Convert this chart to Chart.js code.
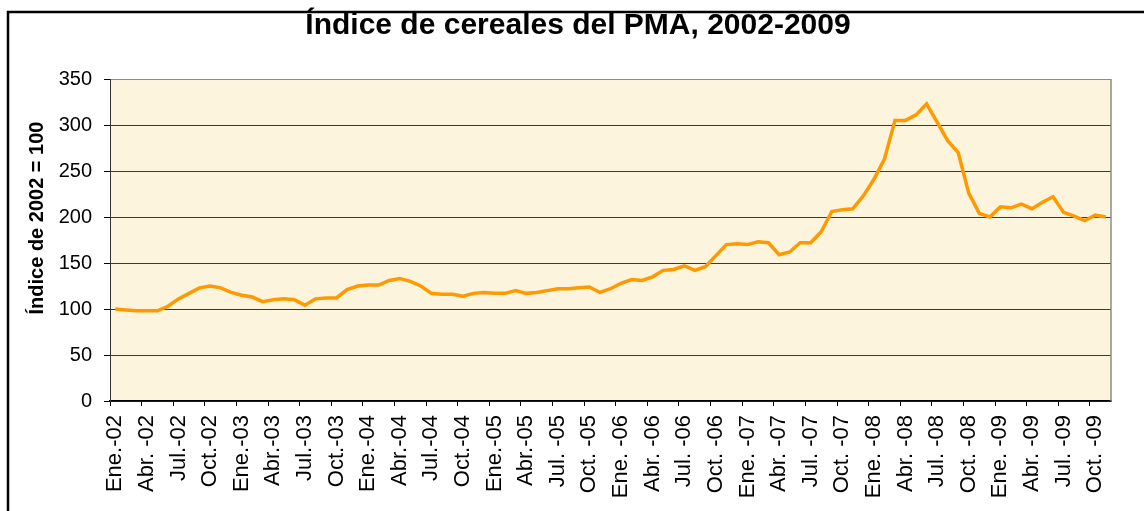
<!DOCTYPE html>
<html lang="es">
<head>
<meta charset="utf-8">
<title>Índice de cereales del PMA, 2002-2009</title>
<script src="https://cdn.jsdelivr.net/npm/chart.js@4"></script>
<style>
  html, body { margin: 0; padding: 0; background: #fff; }
  #wrap { width: 1144px; height: 511px; }
</style>
</head>
<body>
<div id="wrap"><canvas id="cerealChart" width="1144" height="511"></canvas></div>
<script>
// Índice mensual de cereales del PMA (2002 = 100), Ene-2002 .. Nov-2009
const years = ['02', '03', '04', '05', '06', '07', '08', '09'];
const monthNames = ['Ene', 'Feb', 'Mar', 'Abr', 'May', 'Jun', 'Jul', 'Ago', 'Sep', 'Oct', 'Nov', 'Dic'];

const indexValues = [
  100, 99, 98, 98, 98, 103, 111, 117, 123, 125, 123, 118,   // 2002
  115, 113, 108, 110, 111, 110, 104, 111, 112, 112, 121, 125, // 2003
  126, 126, 131, 133, 130, 125, 117, 116, 116, 114, 117, 118, // 2004
  117, 117, 120, 117, 118, 120, 122, 122, 123, 124, 118, 122, // 2005
  128, 132, 131, 135, 142, 143, 147, 142, 146, 158, 170, 171, // 2006
  170, 173, 172, 159, 162, 172, 172, 184, 206, 208, 209, 223, // 2007
  241, 263, 305, 305, 311, 323, 303, 283, 270, 226, 204, 200, // 2008
  211, 210, 214, 209, 216, 222, 205, 201, 196, 202, 200       // 2009
];

// labels shown under every third month
const tickLabels = [
  'Ene.-02', 'Abr. -02', 'Jul.-02', 'Oct.-02',
  'Ene.-03', 'Abr.-03', 'Jul.-03', 'Oct.-03',
  'Ene.-04', 'Abr.-04', 'Jul.-04', 'Oct.-04',
  'Ene.-05', 'Abr.-05', 'Jul. -05', 'Oct. -05',
  'Ene. -06', 'Abr. -06', 'Jul. -06', 'Oct. -06',
  'Ene. -07', 'Abr. -07', 'Jul. -07', 'Oct. -07',
  'Ene. -08', 'Abr. -08', 'Jul. -08', 'Oct. -08',
  'Ene. -09', 'Abr. -09', 'Jul. -09', 'Oct. -09'
];

const yTicks = [0, 50, 100, 150, 200, 250, 300, 350];

const months = [];
years.forEach(y => monthNames.forEach(m => months.push(m + '-' + y)));
months.length = indexValues.length;

Chart.defaults.font.family = "'Liberation Sans', Arial, sans-serif";
Chart.defaults.color = '#000';

// paints the page, the plot background, the frame and the titles
const decor = {
  id: 'decor',
  beforeDraw(chart) {
    const { ctx, chartArea: a } = chart;
    ctx.save();
    ctx.fillStyle = '#fff';
    ctx.fillRect(0, 0, chart.width, chart.height);
    ctx.fillStyle = '#fdf4dd';
    ctx.fillRect(a.left, a.top, a.right - a.left, a.bottom - a.top);
    ctx.strokeStyle = '#000';
    ctx.lineWidth = 2.5;
    ctx.strokeRect(8, 12, chart.width + 10, chart.height + 10);
    ctx.restore();
  },
  beforeDatasetsDraw(chart) {
    const { ctx, chartArea: a } = chart;
    ctx.save();
    ctx.strokeStyle = '#8c8c8c';
    ctx.lineWidth = 1.5;
    ctx.beginPath();
    ctx.moveTo(a.right, a.top);
    ctx.lineTo(a.right, a.bottom);
    ctx.stroke();
    ctx.restore();
  },
  afterDraw(chart) {
    const ctx = chart.ctx;
    ctx.save();
    ctx.fillStyle = '#000';
    ctx.font = "bold 30px 'Liberation Sans', Arial, sans-serif";
    ctx.textAlign = 'center';
    ctx.textBaseline = 'alphabetic';
    ctx.fillText('Índice de cereales del PMA, 2002-2009', 578, 34);

    ctx.font = "bold 20px 'Liberation Sans', Arial, sans-serif";
    ctx.translate(43, 218);
    ctx.rotate(-Math.PI / 2);
    ctx.fillText('Índice de 2002 = 100', 0, 0);
    ctx.restore();
  }
};

new Chart(document.getElementById('cerealChart'), {
  type: 'line',
  data: {
    labels: months,
    datasets: [{
      label: 'Índice de cereales',
      data: indexValues,
      borderColor: '#ff9900',
      borderWidth: 3.5,
      pointRadius: 0,
      tension: 0,
      fill: false
    }]
  },
  options: {
    responsive: false,
    animation: false,
    layout: { padding: { top: 79, left: 10, right: 33, bottom: 0 } },
    plugins: {
      legend: { display: false },
      title: { display: false },
      tooltip: { enabled: false }
    },
    scales: {
      x: {
        type: 'category',
        offset: true,
        grid: {
          offset: true,
          drawOnChartArea: false,
          drawTicks: true,
          tickLength: 5,
          tickColor: ctx => ctx.index % 3 === 0 ? '#000' : 'rgba(0,0,0,0)'
        },
        border: { color: '#000', width: 1.5 },
        ticks: {
          autoSkip: false,
          minRotation: 90,
          maxRotation: 90,
          padding: 9,
          font: { size: 22 },
          callback: (v, i) => i % 3 === 0 ? tickLabels[i / 3] : ''
        },
        afterFit: scale => { scale.height = 110; }
      },
      y: {
        min: yTicks[0],
        max: yTicks[yTicks.length - 1],
        afterBuildTicks: scale => { scale.ticks = yTicks.map(v => ({ value: v })); },
        grid: {
          color: ctx => ctx.tick && ctx.tick.value === 350 ? '#8c8c8c' : '#3a3a3a',
          lineWidth: 1,
          tickLength: 6,
          tickColor: '#000'
        },
        border: { color: '#333', width: 1 },
        ticks: {
          padding: 12,
          font: { size: 20 }
        },
        afterFit: scale => { scale.width = 100; }
      }
    }
  },
  plugins: [decor]
});
</script>
</body>
</html>
